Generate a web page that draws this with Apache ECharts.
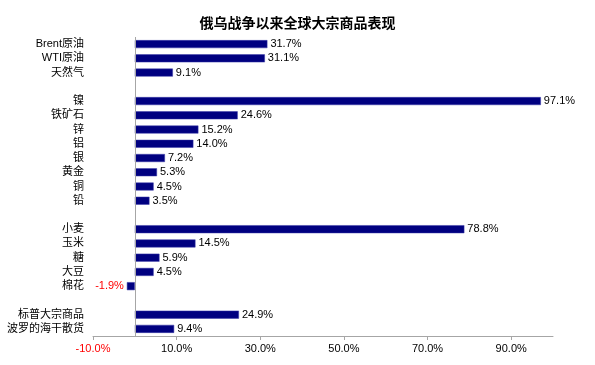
<!DOCTYPE html>
<html><head><meta charset="utf-8">
<script src="https://cdn.jsdelivr.net/npm/echarts@6/dist/echarts.min.js"></script>
<style>html,body{margin:0;padding:0;background:#fff}#c{width:595px;height:365px}</style>
</head><body><div id="c"></div>
<script>
const titleText = '俄乌战争以来全球大宗商品表现';
const categories = ['Brent原油','WTI原油','天然气',' ','镍','铁矿石','锌','铝','银','黄金','铜','铅','  ','小麦','玉米','糖','大豆','棉花','   ','标普大宗商品','波罗的海干散货'];
const values = [31.7,31.1,9.1,null,97.1,24.6,15.2,14.0,7.2,5.3,4.5,3.5,null,78.8,14.5,5.9,4.5,-1.9,null,24.9,9.4];
const xTicks = [-10,10,30,50,70,90];
const xMin = -10, xMax = 100;

const chart = echarts.init(document.getElementById('c'));
const fmt = v => v.toFixed(1) + '%';
chart.setOption({
  animation:false,
  title:{text:titleText,left:'center',top:11,textStyle:{fontSize:14,fontWeight:'bold',color:'#000',fontFamily:'Noto Sans CJK SC'}},
  grid:{left:93,right:42,top:37,bottom:29},
  xAxis:{type:'value',min:xMin,max:xMax,
    axisLine:{show:true,lineStyle:{color:'#a6a6a6'}},
    axisTick:{show:true,length:4,customValues:xTicks,lineStyle:{color:'#a6a6a6'}},
    axisLabel:{customValues:xTicks,formatter:v=>fmt(v),fontSize:11,fontFamily:'Liberation Sans, Noto Sans CJK SC',margin:7,
      color:v=> v<0 ? '#ff0000' : '#000'},
    splitLine:{show:false}},
  yAxis:{type:'category',data:categories,inverse:true,
    axisLine:{show:false,onZero:false},axisTick:{show:false},
    axisLabel:{interval:0,fontSize:11,color:'#000',margin:9,fontFamily:'Liberation Sans, Noto Sans CJK SC'}},
  series:[{type:'bar',barWidth:8,
    data:values.map(v=> v===null ? null : {value:v,
      label:{position: v<0 ? 'left':'right', color: v<0 ? '#ff0000':'#000'}}),
    itemStyle:{color:'#000080',borderColor:'#3a3aa8',borderWidth:0.5},
    label:{show:true,formatter:p=>fmt(p.value),fontSize:11,distance:3,fontFamily:'Liberation Sans, Noto Sans CJK SC'},
    markLine:{silent:true,symbol:'none',label:{show:false},lineStyle:{color:'#a6a6a6',width:1,type:'solid'},data:[{xAxis:0}]}
  }]
});
</script></body></html>
